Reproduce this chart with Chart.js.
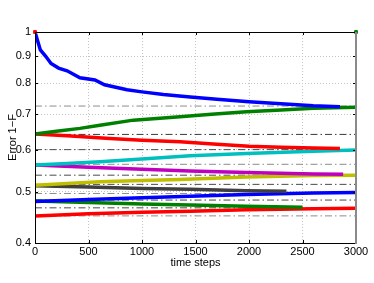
<!DOCTYPE html>
<html>
<head>
<meta charset="utf-8">
<script src="https://cdn.jsdelivr.net/npm/chart.js@4.4.1/dist/chart.umd.min.js"></script>
<style>
  html, body { margin: 0; padding: 0; background: #fff; }
  #wrap { width: 374px; height: 283px; }
</style>
</head>
<body>
<div id="wrap"><canvas id="errChart" width="374" height="283"></canvas></div>
<script>
// tick labels
const xTicks = [0, 500, 1000, 1500, 2000, 2500, 3000];
const yTicks = [0.4, 0.5, 0.6, 0.7, 0.8, 0.9, 1];

// dash-dot reference levels
const refLevels = [0.725, 0.641, 0.600, 0.563, 0.537, 0.516, 0.496, 0.482, 0.466, 0.450];
const refColors = ['#8c8c8c', '#3a3a3a', '#4a4a4a', '#8c8c8c', '#4a4a4a', '#4a4a4a', '#8c8c8c', '#4a4a4a', '#4a4a4a', '#8c8c8c'];

// series (time steps, error values)
const blue1T = [0, 50, 100, 150, 220, 300, 420, 560, 650, 860, 1000, 1200, 1450, 1700, 2000, 2300, 2600, 2850];
const blue1V = [1.0, 0.925, 0.900, 0.872, 0.855, 0.845, 0.820, 0.812, 0.795, 0.778, 0.771, 0.762, 0.754, 0.747, 0.739, 0.732, 0.726, 0.723];
const green1T = [0, 200, 420, 607, 919, 1355, 1650, 1978, 2300, 2600, 3000];
const green1V = [0.642, 0.650, 0.658, 0.667, 0.682, 0.692, 0.700, 0.707, 0.713, 0.718, 0.721];
const red1T = [0, 300, 700, 1000, 1355, 1700, 2000, 2300, 2600, 2850];
const red1V = [0.642, 0.637, 0.630, 0.625, 0.621, 0.614, 0.609, 0.606, 0.604, 0.603];
const cyanT = [0, 300, 607, 1000, 1449, 1978, 2600, 3000];
const cyanV = [0.561, 0.565, 0.569, 0.576, 0.584, 0.590, 0.596, 0.599];
const magentaT = [0, 500, 1000, 1449, 1978, 2600, 2880];
const magentaV = [0.561, 0.556, 0.551, 0.547, 0.543, 0.540, 0.539];
const yellowT = [0, 300, 607, 1000, 1355, 1978, 2600, 3000];
const yellowV = [0.514, 0.518, 0.522, 0.525, 0.527, 0.533, 0.536, 0.537];
const grayT = [0, 500, 1000, 1449, 1978, 2350];
const grayV = [0.513, 0.510, 0.507, 0.505, 0.502, 0.501];
const blue2T = [0, 500, 1000, 1449, 1978, 2600, 3000];
const blue2V = [0.479, 0.483, 0.487, 0.490, 0.494, 0.497, 0.498];
const green2T = [0, 500, 1000, 1449, 1978, 2500];
const green2V = [0.480, 0.477, 0.474, 0.472, 0.469, 0.467];
const red2T = [0, 500, 1000, 1449, 1978, 2600, 3000];
const red2V = [0.450, 0.454, 0.457, 0.459, 0.462, 0.464, 0.465];

// end markers
const markerT = [0, 3000];
const markerV = [1, 1];
const markerColors = ['#ff0000', '#008000'];

function pairs(ts, vs) {
    return ts.map((t, i) => ({x: t, y: vs[i]}));
}

function curve(ts, vs, color) {
    return {
        data: pairs(ts, vs),
        borderColor: color,
        borderWidth: 3.5,
        pointRadius: 0,
        fill: false,
        tension: 0,
        order: 1
    };
}

const datasets = [];
refLevels.forEach((lv, i) => {
    datasets.push({
        data: [{x: 0, y: lv}, {x: 3000, y: lv}],
        borderColor: refColors[i],
        borderWidth: 1,
        borderDash: [7, 3, 1.5, 3],
        pointRadius: 0,
        order: 2
    });
});
datasets.push(curve(blue1T, blue1V, '#0000ff'));
datasets.push(curve(green1T, green1V, '#008000'));
datasets.push(curve(red1T, red1V, '#ff0000'));
datasets.push(curve(cyanT, cyanV, '#00bfbf'));
datasets.push(curve(magentaT, magentaV, '#bf00bf'));
datasets.push(curve(yellowT, yellowV, '#bfbf00'));
datasets.push(curve(grayT, grayV, '#404040'));
datasets.push(curve(blue2T, blue2V, '#0000ff'));
datasets.push(curve(green2T, green2V, '#008000'));
datasets.push(curve(red2T, red2V, '#ff0000'));
datasets.push({
    type: 'scatter',
    data: pairs(markerT, markerV),
    pointStyle: 'rect',
    pointRadius: 2,
    pointBackgroundColor: markerColors,
    pointBorderColor: markerColors,
    showLine: false,
    clip: false,
    order: 0
});

// box and inward ticks, matlab style
const framePlugin = {
    id: 'frame',
    afterDraw(chart) {
        const ctx = chart.ctx;
        const a = chart.chartArea;
        const xs = chart.scales.x, ys = chart.scales.y;
        ctx.save();
        ctx.strokeStyle = '#000';
        ctx.lineWidth = 1;
        ctx.beginPath();
        xTicks.forEach(t => {
            const px = Math.round(xs.getPixelForValue(t)) + 0.5;
            ctx.moveTo(px, a.bottom); ctx.lineTo(px, a.bottom - 3);
            ctx.moveTo(px, a.top); ctx.lineTo(px, a.top + 3);
        });
        yTicks.forEach(v => {
            const py = Math.round(ys.getPixelForValue(v)) + 0.5;
            ctx.moveTo(a.left, py); ctx.lineTo(a.left + 3, py);
            ctx.moveTo(a.right, py); ctx.lineTo(a.right - 3, py);
        });
        ctx.stroke();
        ctx.beginPath();
        ctx.moveTo(a.left + 0.5, a.top + 0.5);
        ctx.lineTo(a.right, a.top + 0.5);
        ctx.moveTo(a.left + 0.5, a.top);
        ctx.lineTo(a.left + 0.5, a.bottom + 0.5);
        ctx.lineTo(a.right, a.bottom + 0.5);
        ctx.stroke();
        ctx.strokeStyle = '#8a8a8a';
        ctx.lineWidth = 2;
        ctx.beginPath();
        ctx.moveTo(a.right, a.top);
        ctx.lineTo(a.right, a.bottom + 1);
        ctx.stroke();
        ctx.restore();
    }
};

const tickFont = {family: 'Liberation Sans, Helvetica, Arial', size: 11};

new Chart(document.getElementById('errChart').getContext('2d'), {
    type: 'line',
    data: {datasets: datasets},
    plugins: [framePlugin],
    options: {
        responsive: false,
        animation: false,
        layout: {padding: {top: 32, right: 18, left: 0, bottom: 0}},
        plugins: {legend: {display: false}, tooltip: {enabled: false}},
        scales: {
            x: {
                type: 'linear',
                min: 0,
                max: 3000,
                afterFit: s => { s.height = 40; },
                afterBuildTicks: s => { s.ticks = xTicks.map(v => ({value: v})); },
                ticks: {color: '#000', font: tickFont, padding: 2, maxRotation: 0, callback: v => String(v)},
                grid: {color: '#c4c4c4', lineWidth: 1, drawTicks: false},
                border: {display: false, dash: [1, 2]},
                title: {display: true, text: 'time steps', color: '#000', font: tickFont, padding: {top: 0, bottom: 13}}
            },
            y: {
                type: 'logarithmic',
                min: 0.4,
                max: 1,
                afterFit: s => { s.width = 35; },
                afterBuildTicks: s => { s.ticks = yTicks.map(v => ({value: v})); },
                ticks: {
                    color: '#000',
                    font: tickFont,
                    padding: 4,
                    callback: v => (v === 1 ? '1' : v.toFixed(1))
                },
                grid: {color: '#c4c4c4', lineWidth: 1, drawTicks: false},
                border: {display: false, dash: [1, 2]},
                title: {display: true, text: 'Error 1\u2212F', color: '#000', font: tickFont, padding: {top: 6, bottom: 0}}
            }
        }
    }
});
</script>
</body>
</html>
